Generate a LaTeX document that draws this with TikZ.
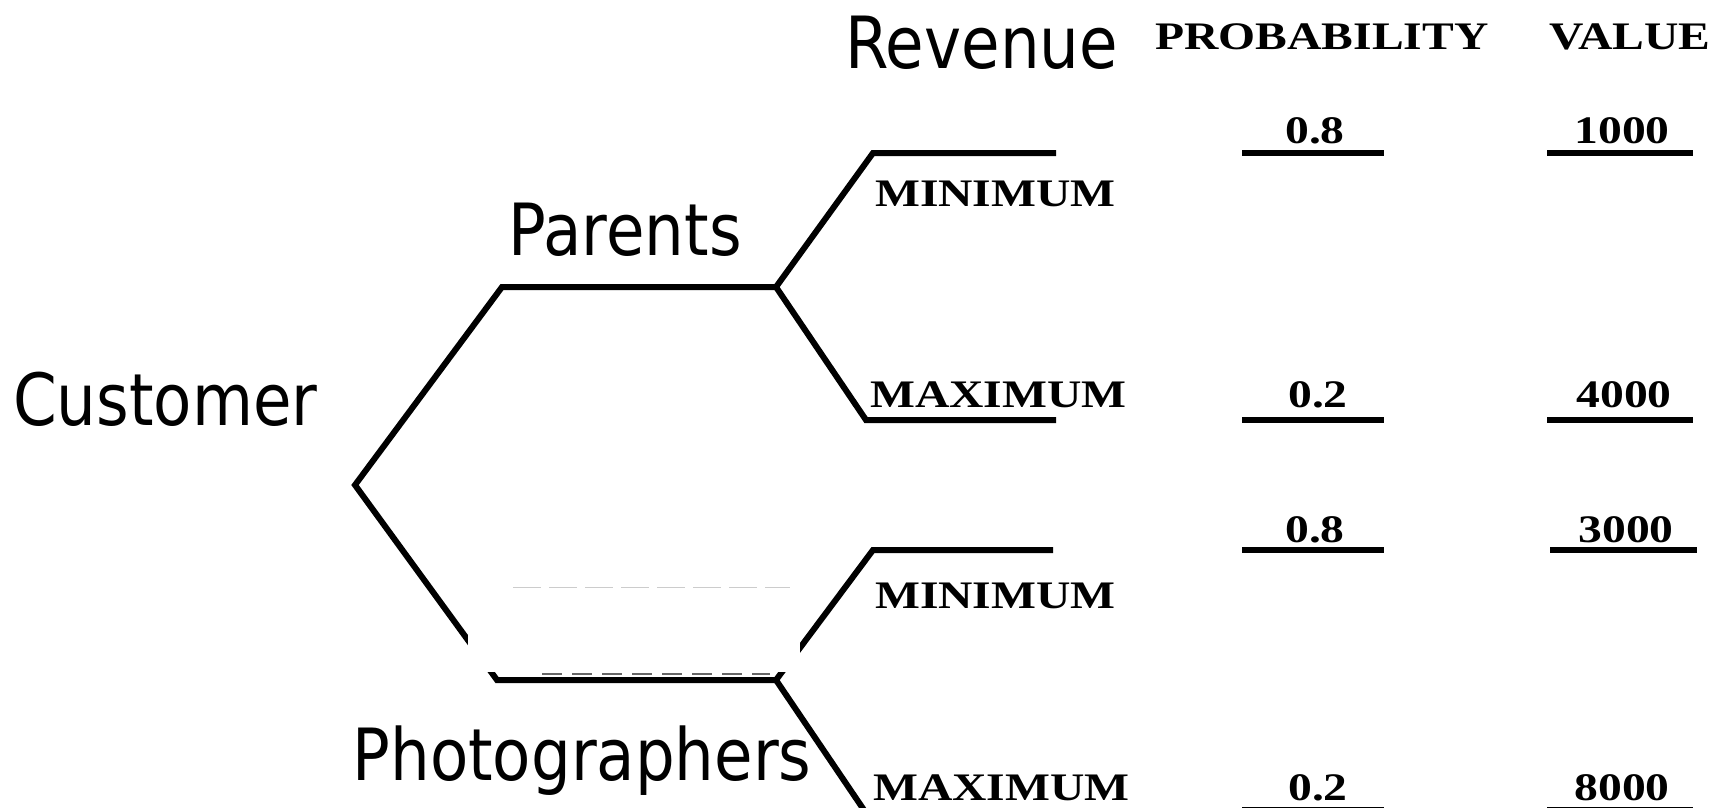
\documentclass[tikz,border=0pt]{standalone}
\usepackage{fontspec}
\setmainfont[FakeStretch=0.87]{DejaVu Sans}
\newfontfamily\tabfont[FakeStretch=1.22]{Liberation Serif}
\usepackage{tikz}

\tikzset{
  branch/.style={line width=6pt, line join=miter},
  blank/.style={line width=6.5pt},
  bigtext/.style={inner sep=0pt, font=\fontsize{72}{80}\selectfont},
  smalltext/.style={inner sep=0pt, font=\tabfont\bfseries\fontsize{39}{42}\selectfont}
}

\begin{document}
\begin{tikzpicture}[x=1pt,y=-1pt]
\useasboundingbox (0,0) rectangle (1718,807);

% tree points
\coordinate (root) at (355,485);
\coordinate (parA) at (502,287);
\coordinate (parB) at (776,287);
\coordinate (phoA) at (497,680);
\coordinate (phoB) at (776,680);
\coordinate (minA) at (873,153);
\coordinate (minB) at (1056,153);
\coordinate (maxA) at (866,420);
\coordinate (maxB) at (1056,420);
\coordinate (minC) at (873,550);
\coordinate (minD) at (1053,550);
\coordinate (maxC) at (866,813);
\coordinate (maxD) at (1056,813);

\draw[branch] (parB) -- (parA) -- (root) -- (phoA) -- (phoB);
\draw[branch] (minB) -- (minA) -- (parB) -- (maxA) -- (maxB);
\draw[branch] (minD) -- (minC) -- (phoB) -- (maxC) -- (maxD);

% patched-over area
\fill[white] (468,587) rectangle (800,672);
\draw[gray!40, line width=1pt, dash pattern=on 28pt off 8pt] (513,587) -- (790,587);
\draw[black!60, line width=1.5pt, dash pattern=on 20pt off 10pt] (542,674) -- (770,674);

% labels
\node[bigtext, anchor=base west] (cust) at (13,425) {Customer};
\node[bigtext, anchor=base] (par) at (625,255) {Parents};
\node[bigtext, anchor=base] (pho) at (582,780) {Photographers};
\node[bigtext, anchor=base west] (rev) at (845,68) {Revenue};
\node[smalltext, anchor=base] (prob) at (1322,49) {PROBABILITY};
\node[smalltext, anchor=base] (val) at (1630,49) {VALUE};

\node[smalltext, anchor=base west] (min1) at (875,206) {MINIMUM};
\node[smalltext, anchor=base west] (max1) at (870,407) {MAXIMUM};
\node[smalltext, anchor=base west] (min2) at (875,608) {MINIMUM};
\node[smalltext, anchor=base west] (max2) at (873,800) {MAXIMUM};

% probability and value blanks
\node[smalltext, anchor=base] (p1) at (1315,143) {0.8};
\node[smalltext, anchor=base] (p2) at (1318,407) {0.2};
\node[smalltext, anchor=base] (p3) at (1315,542) {0.8};
\node[smalltext, anchor=base] (p4) at (1318,800) {0.2};
\node[smalltext, anchor=base] (v1) at (1622,143) {1000};
\node[smalltext, anchor=base] (v2) at (1624,407) {4000};
\node[smalltext, anchor=base] (v3) at (1626,542) {3000};
\node[smalltext, anchor=base] (v4) at (1622,800) {8000};

\draw[blank] (1242,153) -- (1384,153);
\draw[blank] (1242,420) -- (1384,420);
\draw[blank] (1242,550) -- (1384,550);
\draw[blank] (1242,810) -- (1384,810);
\draw[blank] (1547,153) -- (1693,153);
\draw[blank] (1547,420) -- (1693,420);
\draw[blank] (1550,550) -- (1697,550);
\draw[blank] (1547,810) -- (1693,810);
\end{tikzpicture}
\end{document}
